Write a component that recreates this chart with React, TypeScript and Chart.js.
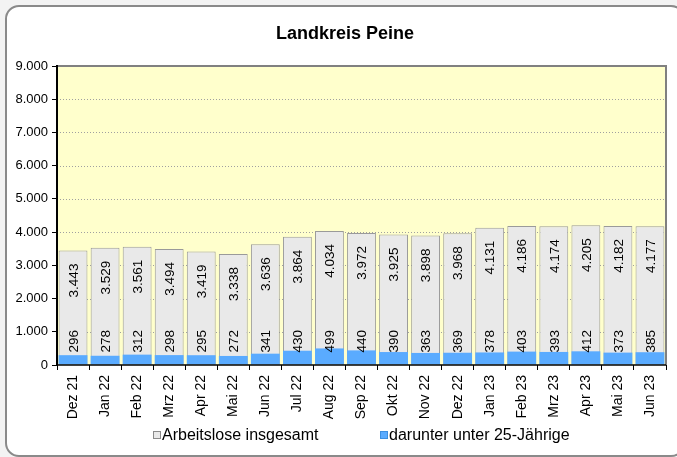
import React, { useEffect, useRef } from "react";
import { Chart, registerables } from "chart.js";

Chart.register(...registerables);

const chartTitle = "Landkreis Peine";
const months = [
  "Dez 21", "Jan 22", "Feb 22", "Mrz 22", "Apr 22", "Mai 22", "Jun 22", "Jul 22",
  "Aug 22", "Sep 22", "Okt 22", "Nov 22", "Dez 22", "Jan 23", "Feb 23", "Mrz 23",
  "Apr 23", "Mai 23", "Jun 23",
];
const totalValues = [
  3443, 3529, 3561, 3494, 3419, 3338, 3636, 3864, 4034, 3972, 3925, 3898, 3968,
  4131, 4186, 4174, 4205, 4182, 4177,
];
const youthValues = [
  296, 278, 312, 298, 295, 272, 341, 430, 499, 440, 390, 363, 369, 378, 403, 393,
  412, 373, 385,
];
const seriesNames = ["Arbeitslose insgesamt", "darunter unter 25-Jährige"];
const yMin = 0;
const yMax = 9000;
const yStep = 1000;

const FONT = "'Liberation Sans', Arial, Helvetica, sans-serif";
const GRAY_FILL = "#e9e9e9";
const GRAY_BORDER = "#9a9a9a";
const BLUE_FILL = "#5aabff";
const PLOT_BG = "#ffffcc";

const fmt = (v: number) =>
  String(Math.round(v)).replace(/\B(?=(\d{3})+(?!\d))/g, ".");

const backgroundPlugin = {
  id: "plotBackground",
  beforeDraw(chart: any) {
    const { ctx, chartArea } = chart;
    const y = chart.scales.y;
    ctx.save();
    ctx.fillStyle = PLOT_BG;
    ctx.fillRect(chartArea.left, chartArea.top, chartArea.right - chartArea.left, chartArea.bottom - chartArea.top);
    ctx.strokeStyle = "#a0a0a0";
    ctx.lineWidth = 1;
    ctx.setLineDash([1, 2]);
    for (let v = yMin + yStep; v < yMax; v += yStep) {
      const py = Math.round(y.getPixelForValue(v)) + 0.5;
      ctx.beginPath();
      ctx.moveTo(chartArea.left, py);
      ctx.lineTo(chartArea.right, py);
      ctx.stroke();
    }
    ctx.restore();
  },
};

const labelPlugin = {
  id: "barLabels",
  afterDatasetsDraw(chart: any) {
    const { ctx } = chart;
    ctx.save();
    ctx.fillStyle = "#000";
    ctx.font = `13.5px ${FONT}`;
    ctx.textBaseline = "middle";
    chart.data.datasets.forEach((ds: any, di: number) => {
      const meta = chart.getDatasetMeta(di);
      meta.data.forEach((el: any, i: number) => {
        const txt = fmt(ds.data[i]);
        ctx.save();
        if (di === 0) {
          ctx.translate(el.x, el.y + 13);
          ctx.rotate(-Math.PI / 2);
          ctx.textAlign = "right";
        } else {
          ctx.translate(el.x, el.base - 12);
          ctx.rotate(-Math.PI / 2);
          ctx.textAlign = "left";
        }
        ctx.fillText(txt, 0, 1);
        ctx.restore();
      });
    });
    ctx.restore();
  },
};

const framePlugin = {
  id: "frameAndLegend",
  afterDraw(chart: any) {
    const { ctx, chartArea } = chart;
    ctx.save();
    ctx.strokeStyle = "#808080";
    ctx.lineWidth = 2;
    ctx.beginPath();
    ctx.moveTo(chartArea.left, chartArea.top);
    ctx.lineTo(chartArea.right, chartArea.top);
    ctx.lineTo(chartArea.right, chartArea.bottom);
    ctx.stroke();
    ctx.strokeStyle = "#000";
    ctx.lineWidth = 2;
    ctx.beginPath();
    ctx.moveTo(chartArea.left, chartArea.top - 1);
    ctx.lineTo(chartArea.left, chartArea.bottom);
    ctx.stroke();
    ctx.lineWidth = 1.5;
    ctx.beginPath();
    ctx.moveTo(chartArea.left, chartArea.bottom);
    ctx.lineTo(chartArea.right, chartArea.bottom);
    ctx.stroke();

    ctx.fillStyle = "#000";
    ctx.font = `bold 18px ${FONT}`;
    ctx.textAlign = "center";
    ctx.textBaseline = "middle";
    ctx.fillText(chartTitle, 345, 34);

    const items = [
      { label: seriesNames[0], fill: GRAY_FILL, stroke: "#8a8a8a", x: 153 },
      { label: seriesNames[1], fill: BLUE_FILL, stroke: "#3d8fe0", x: 380 },
    ];
    ctx.font = `16px ${FONT}`;
    ctx.textAlign = "left";
    items.forEach((it) => {
      ctx.fillStyle = it.fill;
      ctx.fillRect(it.x + 0.5, 431.5, 7, 7);
      ctx.strokeStyle = it.stroke;
      ctx.lineWidth = 1;
      ctx.strokeRect(it.x + 0.5, 431.5, 7, 7);
      ctx.fillStyle = "#000";
      ctx.fillText(it.label, it.x + 9, 436);
    });
    ctx.restore();
  },
};

export default function App() {
  const ref = useRef<HTMLCanvasElement | null>(null);
  useEffect(() => {
    if (!ref.current) return;
    const chart = new Chart(ref.current, {
      type: "bar",
      data: {
        labels: months,
        datasets: [
          {
            label: seriesNames[0],
            data: totalValues,
            backgroundColor: GRAY_FILL,
            borderColor: GRAY_BORDER,
            borderWidth: 1,
            grouped: false,
            order: 2,
            categoryPercentage: 1,
            barPercentage: 0.9,
          },
          {
            label: seriesNames[1],
            data: youthValues,
            backgroundColor: BLUE_FILL,
            borderWidth: 0,
            grouped: false,
            order: 1,
            categoryPercentage: 1,
            barPercentage: 0.9,
          },
        ],
      },
      options: {
        animation: false,
        responsive: false,
        maintainAspectRatio: false,
        layout: { padding: { left: 8, right: 11, top: 66, bottom: 32 } },
        plugins: {
          legend: { display: false },
          title: { display: false },
          tooltip: { enabled: false },
        },
        scales: {
          x: {
            offset: true,
            grid: {
              display: true,
              offset: true,
              drawOnChartArea: false,
              drawTicks: true,
              tickLength: 5,
              tickColor: "#000",
              color: "#000",
            },
            border: { display: false },
            ticks: {
              color: "#000",
              font: { family: FONT, size: 14 },
              minRotation: 90,
              maxRotation: 90,
              padding: 5,
              autoSkip: false,
            },
            afterFit: (s: any) => {
              s.height = 60;
            },
          },
          y: {
            min: yMin,
            max: yMax,
            grid: {
              display: true,
              drawOnChartArea: false,
              drawTicks: true,
              tickLength: 5,
              tickColor: "#000",
              color: "#000",
            },
            border: { display: false },
            ticks: {
              stepSize: yStep,
              color: "#000",
              font: { family: FONT, size: 13 },
              padding: 4,
              callback: (v: any) => fmt(Number(v)),
            },
            afterFit: (s: any) => {
              s.width = 49;
            },
          },
        },
      },
      plugins: [backgroundPlugin, labelPlugin, framePlugin],
    } as any);
    return () => chart.destroy();
  }, []);

  return (
    <div
      style={{
        position: "absolute",
        left: 0,
        top: 0,
        width: 677,
        height: 457,
        overflow: "hidden",
        background: "#f3f3f3",
      }}
    >
      <div
        style={{
          position: "absolute",
          left: 5,
          top: 5,
          width: 676,
          height: 448,
          border: "2px solid #8a8a8a",
          borderRadius: 14,
          background: "#ffffff",
        }}
      />
      <canvas
        ref={ref}
        width={677}
        height={457}
        style={{ position: "absolute", left: 0, top: 0, width: 677, height: 457, display: "block" }}
      />
    </div>
  );
}
